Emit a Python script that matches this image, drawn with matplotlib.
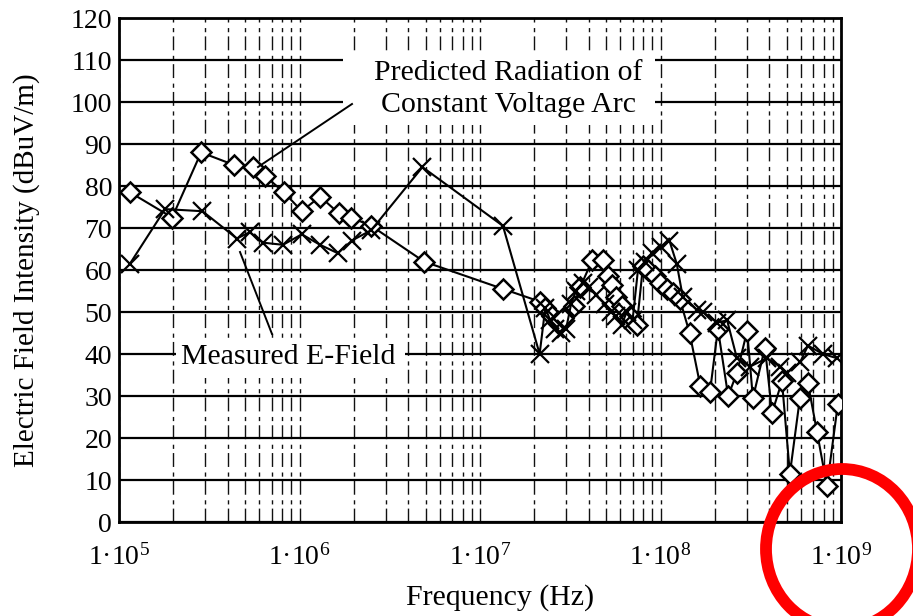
import matplotlib
matplotlib.use("Agg")
import matplotlib.pyplot as plt
from matplotlib.patches import Ellipse, Rectangle
from matplotlib.lines import Line2D
from matplotlib.ticker import FixedLocator, FixedFormatter, NullFormatter

plt.rcParams['font.family'] = ['Liberation Serif', 'DejaVu Serif']
plt.rcParams['mathtext.fontset'] = 'custom'
plt.rcParams['mathtext.rm'] = 'Liberation Serif'
plt.rcParams['mathtext.it'] = 'Liberation Serif:italic'
plt.rcParams['mathtext.bf'] = 'Liberation Serif:bold'

# Predicted radiation (diamonds)
pred_freq = [1.15e5, 1.97e5, 2.85e5, 4.34e5, 5.5e5, 6.4e5, 8.2e5, 1.03e6, 1.3e6,
             1.65e6, 1.93e6, 2.5e6, 4.9e6, 1.34e7, 2.14e7, 2.3e7, 2.5e7, 2.7e7,
             2.9e7, 3.3e7, 3.6e7, 4.2e7, 4.8e7, 5.1e7, 5.4e7, 5.7e7, 6.1e7, 6.8e7,
             7.4e7, 8.0e7, 8.5e7, 9.3e7, 9.9e7, 1.08e8, 1.17e8, 1.28e8, 1.45e8,
             1.66e8, 1.88e8, 2.08e8, 2.37e8, 2.65e8, 3.02e8, 3.25e8, 3.79e8,
             4.15e8, 4.71e8, 5.21e8, 5.92e8, 6.56e8, 7.36e8, 8.36e8, 9.6e8]
pred_val = [78.5, 72.5, 88, 85, 84.5, 82.5, 78.5, 74, 77.5,
            73.5, 72.5, 70.5, 62, 55.5, 52.5, 51, 49, 47.5,
            48.5, 51.5, 56, 62.5, 62.5, 58.5, 56.5, 53.5, 51.5, 49,
            47, 61, 60, 58.5, 57, 55.5, 54.5, 53, 45,
            32.5, 31, 46, 30, 35.5, 45.5, 29.5, 41.5,
            26, 33.5, 11.5, 29.5, 33, 21.5, 8.5, 28]

# Measured E-field (x markers)
meas_freq = [1.15e5, 1.8e5, 2.9e5, 4.5e5, 5.3e5, 6.3e5, 8.1e5, 1.03e6, 1.3e6,
             1.63e6, 1.95e6, 2.5e6, 4.8e6, 1.34e7, 2.14e7, 2.3e7, 2.45e7, 2.6e7,
             2.8e7, 3.0e7, 3.2e7, 3.4e7, 3.7e7, 4.0e7, 4.4e7, 4.9e7, 5.3e7, 5.7e7,
             6.1e7, 6.5e7, 7.0e7, 7.5e7, 8.2e7, 9.0e7, 1.0e8, 1.12e8, 1.23e8,
             1.33e8, 1.59e8, 1.72e8, 2.06e8, 2.34e8, 2.65e8, 3.13e8, 3.89e8,
             4.59e8, 5.02e8, 5.93e8, 6.56e8, 7.94e8, 9.5e8]
meas_val = [61.5, 74.5, 74, 67.5, 69, 66.5, 66, 68.5, 66,
            64, 67, 69.5, 84.5, 70.5, 40, 51, 48, 46,
            45, 46, 52, 55, 57, 56, 54, 52, 50, 49,
            47, 50, 48, 60, 62, 64, 65.5, 67, 61.5,
            53.5, 50.5, 50, 47.5, 48, 39, 37, 39,
            37, 35.5, 38, 42, 40, 39]

x_ticks = [1e5, 1e6, 1e7, 1e8, 1e9]
x_tick_labels = ['1·10$^{5}$', '1·10$^{6}$', '1·10$^{7}$', '1·10$^{8}$', '1·10$^{9}$']
y_ticks = list(range(0, 121, 10))

W, H = 913, 616
fig = plt.figure(figsize=(W / 100, H / 100), dpi=100)
ax = fig.add_axes([119 / W, 1 - 522 / H, (841 - 119) / W, (522 - 18) / H])
ax.set_xscale('log')
ax.set_xlim(1e5, 1e9)
ax.set_ylim(0, 120)
ax.set_axisbelow(True)

minor = [m * 10 ** e for e in range(5, 9) for m in range(2, 10)]
ax.xaxis.set_major_locator(FixedLocator(x_ticks))
ax.xaxis.set_major_formatter(FixedFormatter(x_tick_labels))
ax.xaxis.set_minor_locator(FixedLocator(minor))
ax.xaxis.set_minor_formatter(NullFormatter())
ax.set_yticks(y_ticks)
ax.tick_params(axis='both', which='both', length=0, labelsize=20)
ax.tick_params(axis='x', pad=16)
ax.tick_params(axis='y', pad=5)

ax.yaxis.grid(True, color='black', lw=1.6, ls='-')
ax.xaxis.grid(True, which='both', color='#111111', lw=1.0, ls=(0, (10, 3, 3, 4)))

for s in ax.spines.values():
    s.set_linewidth(2)

# white label boxes covering the grid
ax.add_patch(Rectangle((343 / W, 1 - 125 / H), (655 - 343) / W, (125 - 53) / H,
                       transform=fig.transFigure, facecolor='white', edgecolor='none',
                       zorder=1))
ax.add_patch(Rectangle((176 / W, 1 - 378 / H), (405 - 176) / W, (378 - 338) / H,
                       transform=fig.transFigure, facecolor='white', edgecolor='none',
                       zorder=1))

ax.plot(pred_freq, pred_val, color='black', lw=1.5, marker='D', ms=10,
        mfc='white', mec='black', mew=1.8, zorder=3)
ax.plot(meas_freq, meas_val, color='black', lw=1.5, marker='x', ms=13,
        mec='black', mew=1.6, zorder=3)

fig.text(508 / W, 1 - 89 / H, 'Predicted Radiation of\nConstant Voltage Arc',
         ha='center', va='center', fontsize=21.5, linespacing=1.3, zorder=5)
fig.text(288 / W, 1 - 357 / H, 'Measured E-Field', ha='center', va='center',
         fontsize=21.5, zorder=5)

ax.add_line(Line2D([258 / W, 352 / W], [1 - 167 / H, 1 - 104 / H],
                   transform=fig.transFigure, color='black', lw=1.4, zorder=4))
ax.add_line(Line2D([240 / W, 272 / W], [1 - 252 / H, 1 - 334 / H],
                   transform=fig.transFigure, color='black', lw=1.4, zorder=4))

fig.text(27 / W, 1 - 270 / H, 'Electric Field Intensity (dBuV/m)', rotation=90,
         ha='center', va='center', fontsize=21)
fig.text(500 / W, 1 - 598 / H, 'Frequency (Hz)', ha='center', va='center',
         fontsize=21.5)

fig.patches.append(Ellipse((842 / W, 1 - 549 / H), 152 / W, 160 / H,
                           transform=fig.transFigure, fill=False,
                           edgecolor='#ff0000', lw=8.5, clip_on=False))

fig.savefig('out.png', dpi=100)
